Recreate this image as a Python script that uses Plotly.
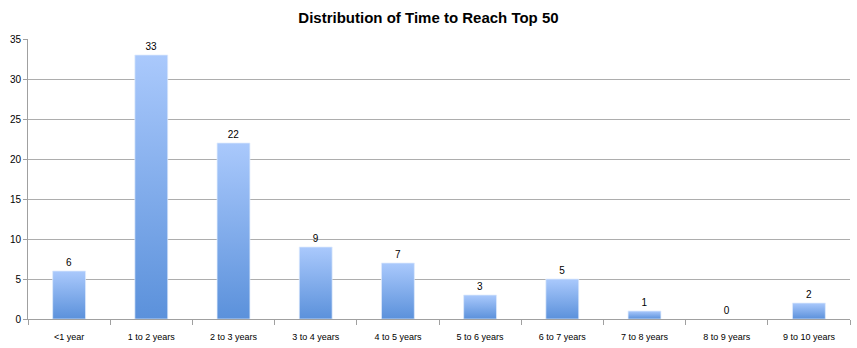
import plotly.graph_objects as go

categories = ["<1 year", "1 to 2 years", "2 to 3 years", "3 to 4 years", "4 to 5 years",
              "5 to 6 years", "6 to 7 years", "7 to 8 years", "8 to 9 years", "9 to 10 years"]
counts = [6, 33, 22, 9, 7, 3, 5, 1, 0, 2]
y_ticks = [0, 5, 10, 15, 20, 25, 30, 35]

BAR_HALF = 0.2
positions = list(range(len(categories)))

fig = go.Figure()

# gradient-filled bars (one trace per bar so the gradient spans each bar)
for i, v in zip(positions, counts):
    if v <= 0:
        continue
    fig.add_trace(go.Scatter(
        x=[i - BAR_HALF, i + BAR_HALF, i + BAR_HALF, i - BAR_HALF, i - BAR_HALF],
        y=[0, 0, v, v, 0],
        mode="lines",
        line=dict(width=0.8, color="rgba(225,235,252,0.9)"),
        fill="toself",
        fillgradient=dict(type="vertical",
                          colorscale=[[0, "#5b91db"], [1, "#aac9fc"]]),
        hoverinfo="skip",
        showlegend=False,
    ))

# value labels via a transparent bar trace
fig.add_trace(go.Bar(
    x=positions, y=counts, width=2 * BAR_HALF,
    marker=dict(color="rgba(0,0,0,0)", line=dict(width=0)),
    text=[str(c) for c in counts], textposition="outside",
    textfont=dict(family="Liberation Sans, Arial", size=10, color="black"),
    cliponaxis=False, showlegend=False,
))

fig.update_layout(
    width=857, height=348,
    margin=dict(l=28, r=7, t=39, b=29),
    paper_bgcolor="white", plot_bgcolor="white",
    title=dict(text="<b>Distribution of Time to Reach Top 50</b>",
               x=0.5, xanchor="center", y=1 - 18 / 348, yanchor="middle",
               font=dict(family="Liberation Sans, Arial", size=15, color="black")),
    font=dict(family="Liberation Sans, Arial", size=9, color="black"),
    bargap=0.6,
)

fig.update_xaxes(
    range=[-0.5, len(categories) - 0.5],
    tickmode="array", tickvals=positions, ticktext=categories,
    ticks="", showgrid=False, zeroline=False,
    showline=True, linecolor="#a0a0a0", linewidth=1,
    tickfont=dict(size=9), ticklabelstandoff=9,
    minor=dict(tick0=-0.5, dtick=1, ticks="outside", ticklen=5,
               tickcolor="#a0a0a0", showgrid=False),
)
fig.update_yaxes(
    range=[0, 35], tickmode="array", tickvals=y_ticks,
    showgrid=True, gridcolor="#adadad", gridwidth=1, zeroline=False,
    showline=True, linecolor="#a0a0a0", linewidth=1,
    ticks="outside", ticklen=4, tickcolor="#a0a0a0",
    tickfont=dict(size=10),
)

fig.write_html("out.html")
